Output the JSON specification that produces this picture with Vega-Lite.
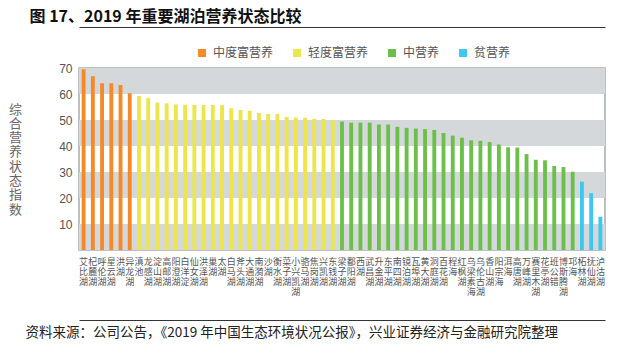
{
  "$schema": "https://vega.github.io/schema/vega-lite/v6.json",
  "autosize": {"type": "none"},
  "width": 526,
  "height": 182,
  "padding": {"left": 79, "top": 68, "right": 29, "bottom": 111},
  "background": "#ffffff",
  "config": {
    "view": {"stroke": "#a8acb0", "strokeWidth": 1.5},
    "font": "Noto Sans CJK SC"
  },
  "datasets": {
    "lakes": [
      {"lake": "艾比湖", "value": 69.5, "level": "中度富营养"},
      {"lake": "杞麓湖", "value": 66.8, "level": "中度富营养"},
      {"lake": "呼伦湖", "value": 64.1, "level": "中度富营养"},
      {"lake": "星云湖", "value": 64.1, "level": "中度富营养"},
      {"lake": "洪湖", "value": 63.5, "level": "中度富营养"},
      {"lake": "异龙湖", "value": 60.3, "level": "中度富营养"},
      {"lake": "滇池", "value": 59.2, "level": "轻度富营养"},
      {"lake": "龙感湖", "value": 58.6, "level": "轻度富营养"},
      {"lake": "淀山湖", "value": 56.7, "level": "轻度富营养"},
      {"lake": "高邮湖", "value": 56.4, "level": "轻度富营养"},
      {"lake": "阳澄湖", "value": 56.0, "level": "轻度富营养"},
      {"lake": "白洋淀", "value": 55.9, "level": "轻度富营养"},
      {"lake": "仙女湖", "value": 55.8, "level": "轻度富营养"},
      {"lake": "洪泽湖", "value": 55.8, "level": "轻度富营养"},
      {"lake": "巢湖", "value": 55.8, "level": "轻度富营养"},
      {"lake": "太湖", "value": 55.7, "level": "轻度富营养"},
      {"lake": "白马湖", "value": 54.5, "level": "轻度富营养"},
      {"lake": "斧头湖", "value": 53.8, "level": "轻度富营养"},
      {"lake": "大通湖", "value": 53.6, "level": "轻度富营养"},
      {"lake": "南漪湖", "value": 52.7, "level": "轻度富营养"},
      {"lake": "沙湖", "value": 52.3, "level": "轻度富营养"},
      {"lake": "衡水湖", "value": 52.3, "level": "轻度富营养"},
      {"lake": "菜子湖", "value": 51.2, "level": "轻度富营养"},
      {"lake": "小兴凯湖", "value": 51.0, "level": "轻度富营养"},
      {"lake": "骆马湖", "value": 50.9, "level": "轻度富营养"},
      {"lake": "焦岗湖", "value": 50.5, "level": "轻度富营养"},
      {"lake": "兴凯湖", "value": 50.4, "level": "轻度富营养"},
      {"lake": "东钱湖", "value": 50.0, "level": "轻度富营养"},
      {"lake": "梁子湖", "value": 49.4, "level": "中营养"},
      {"lake": "鄱阳湖", "value": 49.0, "level": "中营养"},
      {"lake": "西湖", "value": 49.0, "level": "中营养"},
      {"lake": "武昌湖", "value": 49.0, "level": "中营养"},
      {"lake": "升金湖", "value": 48.3, "level": "中营养"},
      {"lake": "东平湖", "value": 48.3, "level": "中营养"},
      {"lake": "南四湖", "value": 47.4, "level": "中营养"},
      {"lake": "镜泊湖", "value": 47.0, "level": "中营养"},
      {"lake": "瓦埠湖", "value": 46.7, "level": "中营养"},
      {"lake": "黄大湖", "value": 46.5, "level": "中营养"},
      {"lake": "洞庭湖", "value": 46.2, "level": "中营养"},
      {"lake": "百花湖", "value": 45.0, "level": "中营养"},
      {"lake": "程海", "value": 44.0, "level": "中营养"},
      {"lake": "红枫湖", "value": 43.2, "level": "中营养"},
      {"lake": "乌梁素海", "value": 42.2, "level": "中营养"},
      {"lake": "乌伦古湖", "value": 42.0, "level": "中营养"},
      {"lake": "香山湖", "value": 41.5, "level": "中营养"},
      {"lake": "阳宗海", "value": 40.6, "level": "中营养"},
      {"lake": "洱海", "value": 39.5, "level": "中营养"},
      {"lake": "高唐湖", "value": 39.4, "level": "中营养"},
      {"lake": "万峰湖", "value": 36.9, "level": "中营养"},
      {"lake": "赛里木湖", "value": 34.7, "level": "中营养"},
      {"lake": "花亭湖", "value": 34.5, "level": "中营养"},
      {"lake": "班公错", "value": 32.3, "level": "中营养"},
      {"lake": "博斯腾湖", "value": 31.9, "level": "中营养"},
      {"lake": "邛海", "value": 30.1, "level": "中营养"},
      {"lake": "柘林湖", "value": 26.3, "level": "贫营养"},
      {"lake": "抚仙湖", "value": 21.8, "level": "贫营养"},
      {"lake": "泸沽湖", "value": 12.8, "level": "贫营养"}
    ],
    "bands": [
      {"from": 0, "to": 10},
      {"from": 20, "to": 30},
      {"from": 40, "to": 50},
      {"from": 60, "to": 70}
    ]
  },
  "data": {"name": "lakes"},
  "layer": [
    {
      "data": {"name": "bands"},
      "mark": {"type": "rect", "color": "#d4d8db"},
      "encoding": {
        "y": {
          "field": "from", "type": "quantitative",
          "scale": {"domain": [0, 70], "nice": false},
          "axis": {
            "values": [10, 20, 30, 40, 50, 60, 70],
            "domain": false, "ticks": false, "grid": false,
            "labelFontSize": 12, "labelColor": "#555555", "labelPadding": 7,
            "labelFont": "Liberation Sans",
            "title": ["综", "合", "营", "养", "状", "态", "指", "数"],
            "titleAngle": 0, "titleX": -64, "titleY": 35,
            "titleAlign": "center", "titleBaseline": "top",
            "titleFontSize": 13, "titleFontWeight": "normal", "titleLineHeight": 14.3,
            "titleColor": "#666666"
          }
        },
        "y2": {"field": "to"}
      }
    },
    {
      "mark": {"type": "bar"},
      "encoding": {
        "x": {
          "field": "lake", "type": "nominal", "sort": null,
          "scale": {"paddingInner": 0.58, "paddingOuter": 0.29},
          "axis": {
            "orient": "bottom", "title": null, "domain": false, "ticks": false,
            "labelAngle": 0, "labelExpr": "split(datum.label, '')",
            "labelFontSize": 9, "labelLineHeight": 10, "labelBaseline": "top",
            "labelPadding": 7, "labelColor": "#555555", "labelOverlap": false,
            "labelFont": "Noto Sans CJK SC"
          }
        },
        "y": {
          "field": "value", "type": "quantitative",
          "scale": {"domain": [0, 70], "nice": false},
          "axis": {
            "values": [10, 20, 30, 40, 50, 60, 70],
            "domain": false, "ticks": false, "grid": false,
            "labelFontSize": 12, "labelColor": "#555555", "labelPadding": 7,
            "labelFont": "Liberation Sans",
            "title": ["综", "合", "营", "养", "状", "态", "指", "数"],
            "titleAngle": 0, "titleX": -64, "titleY": 35,
            "titleAlign": "center", "titleBaseline": "top",
            "titleFontSize": 13, "titleFontWeight": "normal", "titleLineHeight": 14.3,
            "titleColor": "#666666"
          }
        },
        "color": {
          "field": "level", "type": "nominal",
          "scale": {
            "domain": ["中度富营养", "轻度富营养", "中营养", "贫营养"],
            "range": ["#f58a2a", "#ede54c", "#6cc04a", "#3dc9ef"]
          },
          "legend": {
            "title": null, "orient": "none", "direction": "horizontal",
            "legendX": 117, "legendY": -21, "padding": 0,
            "symbolType": "square", "symbolSize": 64, "symbolStrokeWidth": 0,
            "labelFontSize": 12, "labelColor": "#555555", "columnPadding": 17,
            "labelOffset": 5
          }
        }
      }
    },
    {
      "mark": {"type": "bar", "opacity": 0},
      "encoding": {
        "x": {
          "field": "lake", "type": "nominal", "sort": null,
          "axis": {
            "orient": "bottom", "offset": 70, "labels": false, "ticks": false,
            "domain": true, "domainColor": "#333333", "domainWidth": 1,
            "title": "资料来源：公司公告，《2019 年中国生态环境状况公报》，兴业证券经济与金融研究院整理",
            "titleX": -54, "titleY": 16, "titleAlign": "left", "titleBaseline": "alphabetic",
            "titleFontSize": 13.5, "titleFontWeight": "normal", "titleColor": "#222222"
          }
        }
      }
    },
    {
      "mark": {"type": "bar", "opacity": 0},
      "encoding": {
        "x": {
          "field": "lake", "type": "nominal", "sort": null,
          "axis": {
            "orient": "top", "offset": 41, "labels": false, "ticks": false,
            "domain": true, "domainColor": "#333333", "domainWidth": 1,
            "title": "图 17、2019 年重要湖泊营养状态比较",
            "titleX": -50, "titleY": -6, "titleAlign": "left", "titleBaseline": "alphabetic",
            "titleFontSize": 16, "titleFontWeight": "bold", "titleColor": "#111111"
          }
        }
      }
    }
  ],
  "resolve": {"axis": {"x": "independent"}}
}
